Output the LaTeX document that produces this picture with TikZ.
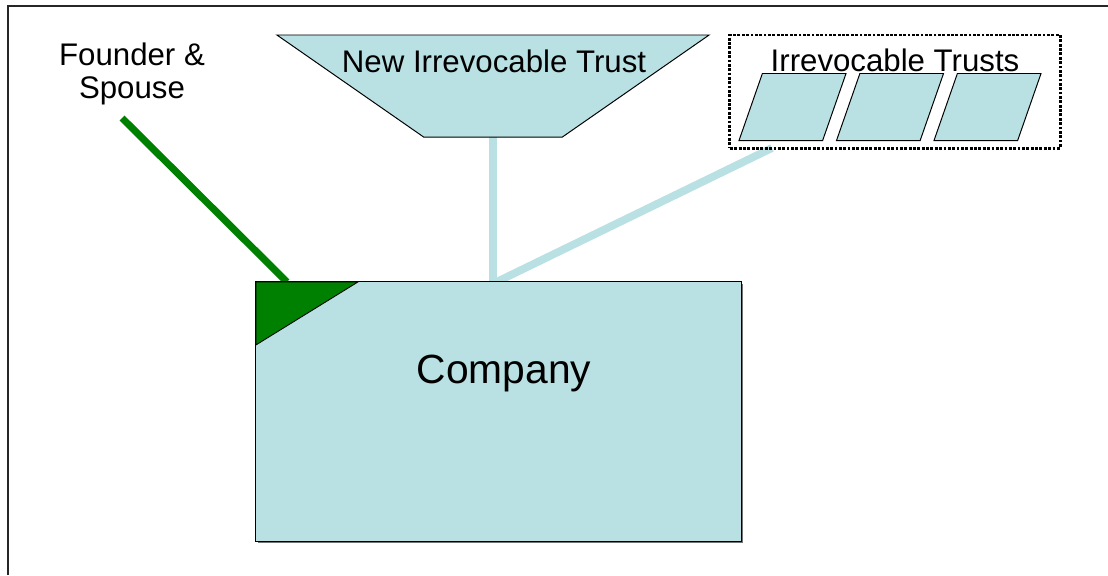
\documentclass[tikz,border=0pt]{standalone}
\usepackage{fontspec}
\setmainfont{Liberation Sans}
\usepackage{tikz}
\usetikzlibrary{shapes.geometric, calc, positioning, shadows}
\definecolor{trustblue}{RGB}{185,224,227}
\definecolor{foundergreen}{RGB}{0,128,0}
\pgfdeclarelayer{background}
\pgfsetlayers{background,main}
\tikzstyle{company} = [rectangle, draw=black, line width=0.7pt, fill=trustblue, minimum width=12.125cm, minimum height=6.475cm, inner sep=0pt, outer sep=0pt, drop shadow={shadow xshift=1.2pt, shadow yshift=-1.2pt, fill=black!55, opacity=1}]
\tikzstyle{newtrust} = [trapezium, draw=black, line width=0.7pt, fill=trustblue, trapezium angle=43.4, trapezium stretches=true, shape border rotate=180, minimum width=10.8cm, minimum height=2.55cm, inner sep=1pt, outer sep=0pt]
\tikzstyle{trustbox} = [trapezium, draw=black, line width=0.7pt, fill=trustblue, trapezium left angle=68.8, trapezium right angle=111.2, trapezium stretches=true, minimum width=2.675cm, minimum height=1.675cm, inner sep=1pt, outer sep=0pt]
\tikzstyle{group} = [rectangle, draw=black, line width=2.1pt, dash pattern=on 2pt off 1.1pt, minimum width=8.25cm, minimum height=2.825cm, inner sep=0pt, outer sep=0pt]
\tikzstyle{heading} = [font=\fontsize{22.2}{23.5}\selectfont, inner sep=0pt]
\tikzstyle{link} = [trustblue, line width=5.5pt]
\tikzstyle{owner} = [foundergreen, line width=5pt]

\begin{document}
\begin{tikzpicture}[x=0.025cm, y=-0.025cm]
		\useasboundingbox (0,0) rectangle (1108,575);
		\draw [line width=1.5pt, black!85] (8,575) -- (8,6) -- (1108,6);
		% trusts
		\node (NewTrust) [newtrust] at (493,86) {};
		\node (NewTrustText) [heading, anchor=base] at (494,72) {New Irrevocable Trust};
		\node (Trusts) [group] at (895,91.5) {};
		\node (TrustsText) [heading, anchor=base] at (895,71) {Irrevocable Trusts};
		\node (TrustA) [trustbox] at (792.5,107) {};
		\node (TrustB) [trustbox] at (890,107) {};
		\node (TrustC) [trustbox] at (987.5,107) {};
		% owners
		\node (Founder) [heading, align=center] at (132,74) {Founder \&\\Spouse};
		\coordinate (FounderStart) at (122,118);
		\node (Company) [company] at (498.5,411.5) {};
		\draw [fill=foundergreen, line width=0.6pt] (Company.north west) -- ++(102,0) -- ($(Company.north west)+(0,63)$) -- cycle;
		\node (CompanyText) [font=\fontsize{29}{34}\selectfont, inner sep=0pt, anchor=base] at (504,383) {Company};
		\begin{pgfonlayer}{background}
		\draw [link] (NewTrust.south) -- (NewTrust.south |- Company.north);
		\draw [link] ([xshift=1.05cm]Trusts.south west) -- ([xshift=-0.05cm]Company.north);
		\draw [owner] (FounderStart) -- ([xshift=0.775cm]Company.north west);
		\end{pgfonlayer}
\end{tikzpicture}
\end{document}
